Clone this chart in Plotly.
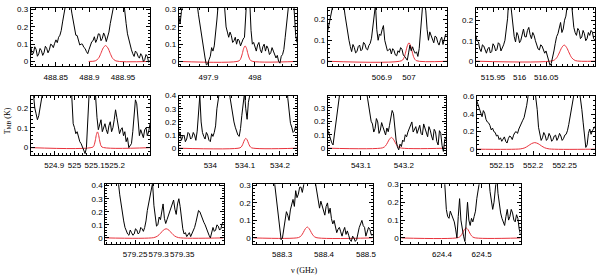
import numpy as np
import plotly.graph_objects as go

# ---------------- data ----------------
# frequency ranges of each panel (GHz)
P_FREQ = [
    (488.813, 488.99), (497.836, 498.091), (506.701, 507.14), (515.9175, 516.142),
    (524.784, 525.374), (533.9095, 534.249), (543.023, 543.298), (552.1105, 552.2983),
    (579.1866, 579.438), (588.2312, 588.5156), (624.2975, 624.598),
]

# observed spectra (T_MB, K), evenly spaced channels across each panel
T1 = [0.086, 0.040, 0.048, 0.085, 0.070, 0.030, 0.044, 0.075, 0.063, 0.035,
      0.051, 0.088, 0.076, 0.050, 0.067, 0.100, 0.095, 0.080, 0.105, 0.125,
      0.109, 0.140, 0.152, 0.180, 0.229, 0.29, 0.33, 0.36, 0.36, 0.35,
      0.33, 0.28, 0.238, 0.19, 0.152, 0.150, 0.124, 0.095, 0.101, 0.100,
      0.082, 0.075, 0.057, 0.045, 0.070, 0.095, 0.114, 0.120, 0.143, 0.110,
      0.128, 0.160, 0.158, 0.120, 0.133, 0.165, 0.147, 0.115, 0.139, 0.170,
      0.219, 0.29, 0.35, 0.45, 0.5, 0.5, 0.5, 0.5, 0.5, 0.42,
      0.35, 0.28, 0.219, 0.16, 0.124, 0.095, 0.067, 0.045, 0.029, 0.060,
      0.051, 0.030, 0.019, 0.045, 0.032, 0.000, 0.010, 0.040, 0.029, -0.005,
      0.006]
T2 = [0.26, 0.22, 0.29, 0.33, 0.40, 0.5, 0.5, 0.5, 0.5, 0.5,
      0.5, 0.5, 0.45, 0.40, 0.33, 0.27, 0.22, 0.15, 0.10, 0.05,
      0.02, -0.02, -0.015, 0.01, 0.03, 0.08, 0.06, 0.09, 0.15, 0.24,
      0.33, 0.45, 0.5, 0.5, 0.4, 0.28, 0.20, 0.17, 0.14, 0.17,
      0.15, 0.11, 0.12, 0.14, 0.10, 0.13, 0.12, 0.09, 0.115, 0.13,
      0.14, 0.30, 0.40, 0.38, 0.35, 0.18, 0.10, 0.11, 0.08, 0.06,
      0.095, 0.11, 0.07, 0.05, 0.085, 0.10, 0.06, 0.09, 0.075, 0.04,
      0.05, 0.08, 0.06, 0.04, 0.02, 0.035, 0.0, -0.01, 0.03, 0.04,
      0.07, 0.14, 0.22, 0.33, 0.45, 0.5, 0.5, 0.4, 0.25, 0.15,
      0.11]
T3 = [0.146, 0.20, 0.24, 0.30, 0.35, 0.4, 0.4, 0.4, 0.4, 0.38,
      0.35, 0.31, 0.27, 0.22, 0.177, 0.13, 0.10, 0.07, 0.046, 0.08,
      0.066, 0.04, 0.046, 0.07, 0.077, 0.05, 0.057, 0.09, 0.082, 0.06,
      0.054, 0.075, 0.085, 0.11, 0.16, 0.22, 0.27, 0.15, 0.10, 0.13,
      0.123, 0.15, 0.17, 0.10, 0.077, 0.05, 0.054, 0.06, 0.035, 0.06,
      0.051, 0.03, 0.026, 0.05, 0.042, 0.065, 0.057, 0.03, 0.023, 0.01,
      0.005, 0.04, 0.077, 0.05, 0.069, 0.05, 0.038, 0.045, 0.023, 0.06,
      0.13, 0.24, 0.3, 0.28, 0.24, 0.15, 0.10, 0.14, 0.123, 0.10,
      0.088, 0.12, 0.115, 0.09, 0.077, 0.10, 0.115, 0.08, 0.10, 0.13,
      0.123]
T4 = [0.126, 0.10, 0.094, 0.06, 0.047, 0.08, 0.074, 0.05, 0.039, 0.06,
      0.068, 0.04, 0.047, 0.085, 0.074, 0.05, 0.058, 0.09, 0.083, 0.05,
      0.063, 0.08, 0.102, 0.15, 0.21, 0.32, 0.3, 0.24, 0.18, 0.12,
      0.094, 0.14, 0.126, 0.09, 0.102, 0.13, 0.157, 0.12, 0.118, 0.15,
      0.165, 0.13, 0.11, 0.14, 0.126, 0.10, 0.079, 0.06, 0.055, 0.08,
      0.074, 0.05, 0.039, 0.05, 0.027, 0.00, -0.02, -0.01, 0.016, 0.05,
      0.087, 0.12, 0.134, 0.16, 0.189, 0.14, 0.157, 0.20, 0.22, 0.27,
      0.3, 0.35, 0.3, 0.22, 0.165, 0.14, 0.126, 0.16, 0.15, 0.11,
      0.118, 0.15, 0.134, 0.10, 0.11, 0.14, 0.126, 0.15, 0.142, 0.11,
      0.102]
T5 = [0.30, 0.29, 0.27, 0.20, 0.17, 0.14, 0.16, 0.22, 0.3, 0.4,
      0.4, 0.4, 0.4, 0.4, 0.4, 0.4, 0.4, 0.4, 0.4, 0.4,
      0.4, 0.4, 0.4, 0.4, 0.4, 0.4, 0.4, 0.4, 0.4, 0.4,
      0.4, 0.25, 0.12, 0.10, 0.07, 0.08, 0.05, 0.03, 0.02, 0.00,
      -0.02, -0.03, 0.0, 0.12, 0.3, 0.4, 0.4, 0.4, 0.35, 0.22,
      0.15, 0.09, 0.11, 0.14, 0.08, 0.10, 0.12, 0.09, 0.07, 0.11,
      0.13, 0.08, 0.10, 0.14, 0.19, 0.15, 0.11, 0.07, 0.09, 0.10,
      0.06, 0.08, 0.03, 0.05, 0.0, 0.01, 0.02, 0.08, 0.16, 0.24,
      0.22, 0.12, 0.06, 0.09, 0.07, 0.05, 0.09, 0.10, 0.06, 0.08,
      0.12]
T6 = [0.09, 0.12, 0.06, 0.09, 0.10, 0.05, 0.07, 0.12, 0.11, 0.07,
      0.08, 0.12, 0.10, 0.06, 0.13, 0.25, 0.4, 0.2, 0.12, 0.09,
      0.07, 0.12, 0.10, 0.06, 0.05, 0.11, 0.09, 0.12, 0.17, 0.30,
      0.45, 0.5, 0.5, 0.5, 0.5, 0.5, 0.5, 0.5, 0.45, 0.38,
      0.30, 0.24, 0.20, 0.16, 0.13, 0.10, 0.09, 0.15, 0.25, 0.35,
      0.42, 0.30, 0.22, 0.35, 0.45, 0.5, 0.5, 0.5, 0.5, 0.5,
      0.5, 0.5, 0.5, 0.5, 0.5, 0.5, 0.5, 0.5, 0.5, 0.5,
      0.5, 0.5, 0.5, 0.5, 0.5, 0.5, 0.5, 0.5, 0.5, 0.5,
      0.5, 0.5, 0.5, 0.38, 0.25, 0.19, 0.16, 0.12, 0.13, 0.17,
      0.15]
T7 = [0.134, 0.10, 0.085, 0.04, 0.024, 0.10, 0.21, 0.28, 0.35, 0.40,
      0.45, 0.5, 0.5, 0.5, 0.5, 0.5, 0.5, 0.5, 0.5, 0.5,
      0.5, 0.5, 0.5, 0.5, 0.5, 0.5, 0.5, 0.5, 0.5, 0.45,
      0.38, 0.30, 0.256, 0.20, 0.18, 0.12, 0.146, 0.22, 0.195, 0.11,
      0.134, 0.19, 0.158, 0.12, 0.098, 0.15, 0.122, 0.17, 0.22, 0.28,
      0.256, 0.15, 0.06, 0.01, -0.012, 0.03, 0.012, 0.06, 0.049, 0.10,
      0.085, 0.12, 0.146, 0.17, 0.195, 0.12, 0.146, 0.16, 0.11, 0.14,
      0.17, 0.11, 0.098, 0.18, 0.146, 0.10, 0.085, 0.16, 0.134, 0.09,
      0.06, 0.14, 0.122, 0.05, 0.024, 0.13, 0.11, 0.02, -0.024, 0.06,
      0.085]
T8 = [0.55, 0.50, 0.45, 0.40, 0.37, 0.44, 0.41, 0.34, 0.31, 0.30,
      0.27, 0.22, 0.24, 0.20, 0.19, 0.15, 0.16, 0.11, 0.13, 0.09,
      0.11, 0.14, 0.09, 0.07, 0.12, 0.15, 0.14, 0.11, 0.16, 0.19,
      0.20, 0.18, 0.23, 0.27, 0.30, 0.33, 0.36, 0.42, 0.50, 0.6,
      0.7, 0.8, 0.8, 0.8, 0.7, 0.6, 0.45, 0.25, 0.17, 0.10,
      0.13, 0.19, 0.16, 0.10, 0.12, 0.18, 0.15, 0.09, 0.11, 0.15,
      0.16, 0.10, 0.13, 0.18, 0.15, 0.10, 0.12, 0.16, 0.17, 0.21,
      0.28, 0.40, 0.55, 0.7, 0.8, 0.8, 0.8, 0.8, 0.7, 0.6,
      0.45, 0.30, 0.15, 0.02, 0.05, 0.18, 0.23, 0.17, 0.21, 0.24,
      0.26]
T9 = [0.5, 0.5, 0.5, 0.5, 0.5, 0.5, 0.5, 0.5, 0.5, 0.47,
      0.42, 0.33, 0.25, 0.18, 0.13, 0.08, 0.05, 0.03, 0.02, 0.06,
      0.04, 0.02, 0.03, 0.07, 0.06, 0.03, 0.04, 0.08, 0.07, 0.05,
      0.08, 0.13, 0.21, 0.27, 0.32, 0.40, 0.42, 0.25, 0.15, 0.09,
      0.10, 0.16, 0.14, 0.20, 0.26, 0.15, 0.11, 0.14, 0.17, 0.20,
      0.23, 0.26, 0.29, 0.22, 0.18, 0.26, 0.30, 0.24, 0.15, 0.07,
      0.03, 0.04, 0.01, 0.03, 0.04, 0.01, 0.03, 0.06, 0.08, 0.12,
      0.17, 0.21, 0.20, 0.17, 0.15, 0.12, 0.10, 0.07, 0.05, 0.02,
      0.0, 0.05, 0.08, 0.05, 0.06, 0.10, 0.09, 0.06, 0.07, 0.11,
      0.10]
T10 = [0.5, 0.5, 0.5, 0.5, 0.5, 0.5, 0.5, 0.5, 0.5, 0.5,
       0.5, 0.5, 0.5, 0.5, 0.45, 0.38, 0.31, 0.25, 0.18, 0.10,
       0.03, -0.01, 0.0, 0.06, 0.09, 0.15, 0.13, 0.10, 0.16, 0.19,
       0.22, 0.18, 0.27, 0.23, 0.25, 0.29, 0.29, 0.26, 0.32, 0.38,
       0.45, 0.5, 0.5, 0.5, 0.45, 0.40, 0.35, 0.30, 0.27, 0.20,
       0.17, 0.21, 0.18, 0.15, 0.13, 0.18, 0.20, 0.14, 0.17, 0.11,
       0.08, 0.10, 0.07, 0.03, 0.05, 0.06, 0.035, 0.01, 0.04, 0.06,
       0.02, 0.04, 0.015, -0.01, -0.02, 0.01, 0.0, -0.02, -0.01, 0.03,
       0.06, 0.08, 0.10, 0.07, 0.06, 0.01, 0.03, 0.06, 0.05, 0.02,
       0.01]
T11 = [0.5, 0.5, 0.5, 0.5, 0.5, 0.5, 0.5, 0.5, 0.5, 0.5,
       0.5, 0.5, 0.5, 0.5, 0.5, 0.5, 0.5, 0.5, 0.5, 0.5,
       0.5, 0.5, 0.5, 0.5, 0.5, 0.5, 0.5, 0.5, 0.5, 0.5,
       0.5, 0.5, 0.40, 0.25, 0.16, 0.12, 0.11, 0.15, 0.13, 0.10,
       0.09, 0.05, 0.0, 0.12, 0.22, 0.10, 0.04, 0.01, -0.02, 0.08,
       0.20, 0.10, 0.07, 0.11, 0.09, 0.12, 0.15, 0.22, 0.30, 0.45,
       0.5, 0.5, 0.5, 0.5, 0.5, 0.45, 0.35, 0.26, 0.22, 0.16,
       0.20, 0.28, 0.35, 0.25, 0.18, 0.14, 0.11, 0.09, 0.07, 0.12,
       0.16, 0.10, 0.12, 0.16, 0.14, 0.10, 0.09, 0.13, 0.11, 0.05,
       0.02]
SPECTRA = [T1, T2, T3, T4, T5, T6, T7, T8, T9, T10, T11]

# model line profiles (red)
M_X = [
    [488.899, 488.9086, 488.9135, 488.917, 488.9205, 488.924, 488.9275, 488.931, 488.9345, 488.9394, 488.99],
    [497.836, 497.9658, 497.97, 497.973, 497.976, 497.979, 497.982, 497.985, 497.988, 497.9922, 498.091],
    [506.701, 506.9736, 506.982, 506.988, 506.994, 507.0, 507.006, 507.012, 507.018, 507.0264, 507.14],
    [515.9175, 516.0633, 516.0699, 516.0746, 516.0793, 516.084, 516.0887, 516.0934, 516.0981, 516.1047, 516.142],
    [524.784, 525.092, 525.099, 525.104, 525.109, 525.114, 525.119, 525.124, 525.129, 525.136, 525.374],
    [533.9095, 534.0853, 534.0906, 534.0944, 534.0982, 534.102, 534.1058, 534.1096, 534.1134, 534.1187, 534.249],
    [543.023, 543.1508, 543.1572, 543.1618, 543.1664, 543.171, 543.1756, 543.1802, 543.1848, 543.1912, 543.298],
    [552.1105, 552.1795, 552.1869, 552.1921, 552.1974, 552.2026, 552.2079, 552.2131, 552.2184, 552.2257, 552.2983],
    [579.1866, 579.2896, 579.298, 579.304, 579.31, 579.316, 579.322, 579.328, 579.334, 579.3424, 579.438],
    [588.2312, 588.3391, 588.3458, 588.3505, 588.3553, 588.36, 588.3648, 588.3695, 588.3743, 588.3809, 588.5156],
    [624.2975, 624.4412, 624.4475, 624.452, 624.4565, 624.461, 624.4655, 624.47, 624.4745, 624.4808, 624.598],
]
M_Y = [
    [0, 0.003, 0.018, 0.046, 0.078, 0.092, 0.078, 0.046, 0.018, 0.003, 0],
    [0, 0.003, 0.019, 0.045, 0.076, 0.09, 0.076, 0.045, 0.019, 0.003, 0],
    [0, 0.003, 0.018, 0.044, 0.074, 0.088, 0.074, 0.044, 0.018, 0.003, 0],
    [0, 0.003, 0.017, 0.04, 0.066, 0.079, 0.066, 0.04, 0.017, 0.003, 0],
    [0, 0.003, 0.017, 0.04, 0.066, 0.079, 0.066, 0.04, 0.017, 0.003, 0],
    [0, 0.003, 0.016, 0.038, 0.063, 0.075, 0.063, 0.038, 0.016, 0.003, 0],
    [0, 0.003, 0.017, 0.04, 0.067, 0.08, 0.067, 0.04, 0.017, 0.003, 0],
    [0, 0.003, 0.016, 0.038, 0.063, 0.075, 0.063, 0.038, 0.016, 0.003, 0],
    [0, 0.002, 0.015, 0.035, 0.059, 0.07, 0.059, 0.035, 0.015, 0.002, 0],
    [0, 0.002, 0.013, 0.031, 0.052, 0.062, 0.052, 0.031, 0.013, 0.002, 0],
    [0, 0.002, 0.012, 0.028, 0.047, 0.056, 0.047, 0.028, 0.012, 0.002, 0],
]

X_TICKS = [
    [488.85, 488.9, 488.95], [497.9, 498], [506.9, 507], [515.95, 516, 516.05],
    [524.9, 525, 525.1, 525.2], [534, 534.1, 534.2], [543.1, 543.2], [552.15, 552.2, 552.25],
    [579.25, 579.3, 579.35], [588.3, 588.4, 588.5], [624.4, 624.5],
]
X_TICKTEXT = [
    ["488.85", "488.9", "488.95"], ["497.9", "498"], ["506.9", "507"], ["515.95", "516", "516.05"],
    ["524.9", "525", "525.1", "525.2"], ["534", "534.1", "534.2"], ["543.1", "543.2"],
    ["552.15", "552.2", "552.25"], ["579.25", "579.3", "579.35"], ["588.3", "588.4", "588.5"],
    ["624.4", "624.5"],
]
Y_TICKS = [
    [0, 0.1, 0.2, 0.3], [0, 0.1, 0.2, 0.3], [0, 0.1, 0.2], [0, 0.1, 0.2],
    [0, 0.1, 0.2], [0, 0.1, 0.2, 0.3, 0.4], [0, 0.1, 0.2, 0.3], [0, 0.2, 0.4, 0.6],
    [0, 0.1, 0.2, 0.3, 0.4], [0, 0.1, 0.2, 0.3], [0, 0.1, 0.2, 0.3],
]

# ---------------- layout (pixels) ----------------
W, H = 600, 278
PX_X = [(31, 151), (180, 299), (330, 450), (479, 599),
        (31, 151), (180, 299), (330, 449), (480, 599),
        (106, 225), (255, 375), (404, 524)]
PX_Y = [(4, 63)] * 4 + [(93, 153)] * 4 + [(183, 243)] * 3
Y_RANGE = [(-0.027, 0.31), (-0.027, 0.31), (-0.023, 0.254), (-0.024, 0.26),
           (-0.036, 0.261), (-0.05, 0.4), (-0.049, 0.39), (-0.064, 0.61),
           (-0.043, 0.41), (-0.032, 0.306), (-0.031, 0.30)]
X_MINOR = [0.01, 0.02, 0.02, 0.01, 0.02, 0.02, 0.02, 0.01, 0.01, 0.02, 0.02]
Y_MINOR = [0.02, 0.02, 0.02, 0.02, 0.02, 0.02, 0.02, 0.05, 0.02, 0.02, 0.02]

RED = "#e8323c"
TICKFONT = dict(family="Liberation Sans, Arial, sans-serif", size=8, color="black")

fig = go.Figure()
for i in range(11):
    sfx = "" if i == 0 else str(i + 1)
    xa, ya = "x" + sfx, "y" + sfx
    lo, hi = P_FREQ[i]
    freq = np.linspace(lo, hi, len(SPECTRA[i]))
    fig.add_trace(go.Scatter(x=M_X[i], y=M_Y[i], mode="lines", xaxis=xa, yaxis=ya,
                             line=dict(color=RED, width=1, shape="spline", smoothing=0.8),
                             showlegend=False, hoverinfo="skip"))
    fig.add_trace(go.Scatter(x=freq, y=SPECTRA[i], mode="lines", xaxis=xa, yaxis=ya,
                             line=dict(color="black", width=1),
                             showlegend=False, hoverinfo="skip"))
    common = dict(showline=True, linecolor="black", linewidth=1, mirror="allticks",
                  ticks="inside", ticklen=4, tickwidth=1, tickcolor="black", tickangle=0,
                  showgrid=False, zeroline=False, tickfont=TICKFONT)
    x0, x1 = PX_X[i]
    y0, y1 = PX_Y[i]
    fig.layout["xaxis" + sfx] = dict(
        domain=[x0 / W, x1 / W], range=[lo, hi], anchor=ya, ticklabelstandoff=3,
        tickmode="array", tickvals=X_TICKS[i], ticktext=X_TICKTEXT[i],
        minor=dict(tickmode="linear", tick0=0, dtick=X_MINOR[i], ticks="inside",
                   ticklen=2, tickcolor="black", showgrid=False),
        **common)
    fig.layout["yaxis" + sfx] = dict(
        domain=[1 - y1 / H, 1 - y0 / H], range=list(Y_RANGE[i]), anchor=xa,
        tickmode="array", tickvals=Y_TICKS[i], ticktext=[("%g" % v) for v in Y_TICKS[i]],
        minor=dict(tickmode="linear", tick0=0, dtick=Y_MINOR[i], ticks="inside",
                   ticklen=2, tickcolor="black", showgrid=False),
        **common)

fig.add_annotation(text="T<sub>MB</sub> (K)", textangle=-90, x=8 / W, y=1 - 118 / H,
                   xref="paper", yref="paper", showarrow=False, xanchor="center", yanchor="middle",
                   font=dict(family="Liberation Serif, serif", size=8, color="black"))
fig.add_annotation(text="ν (GHz)", x=306 / W, y=1 - 270 / H,
                   xref="paper", yref="paper", showarrow=False, xanchor="center", yanchor="middle",
                   font=dict(family="Liberation Serif, serif", size=8, color="black"))

fig.update_layout(width=W, height=H, margin=dict(l=0, r=0, t=0, b=0),
                  paper_bgcolor="white", plot_bgcolor="white")
fig.write_html("out.html", config={"displayModeBar": False},
               post_script="document.body.style.margin='0';document.body.style.overflow='hidden';")
